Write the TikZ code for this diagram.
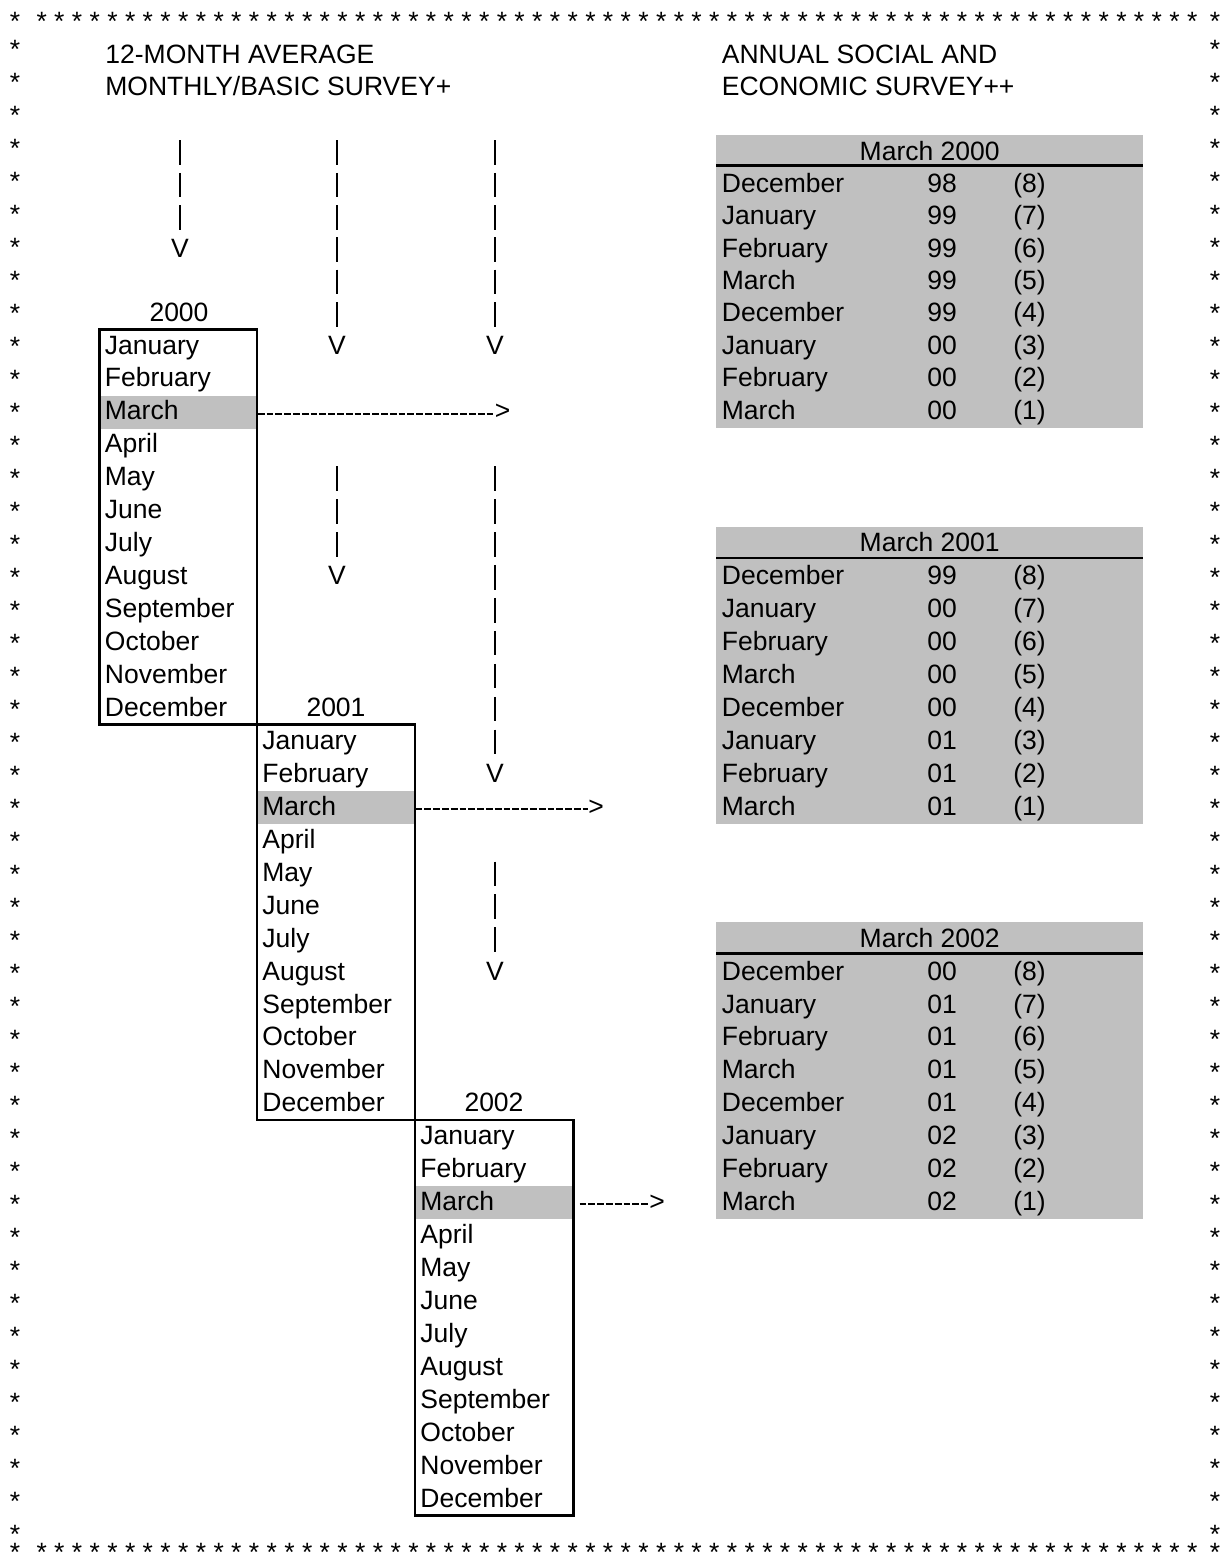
\documentclass[tikz,border=0pt]{standalone}
\usepackage{fontspec}
\setmainfont{Liberation Sans}
\definecolor{silver}{RGB}{192,192,192}
\pgfmathdeclarefunction{rtop}{1}{\pgfmathparse{#1<9 ? 38.6+32.3*#1 : 32.75+32.95*#1}}
\pgfmathdeclarefunction{rbase}{1}{\pgfmathparse{rtop(#1)+24.7}}
\tikzset{
  every node/.style={inner sep=0pt, font=\fontsize{13.25}{15.9}\selectfont},
  cell/.style={anchor=base west},
  mid/.style={anchor=base},
  monthbox/.style={draw, line width=1.3pt},
  hilite/.style={fill=silver, anchor=north west, minimum width=78.85pt, minimum height=16.475pt},
  topbars/.style={line width=1pt, dash pattern=on 12.3pt off 3.85pt, shorten >=3pt},
  bars/.style={line width=1pt, dash pattern=on 12.3pt off 4.175pt, shorten >=3pt},
  hyph/.style={line width=1pt, dash pattern=on 3.4pt off 1pt},
  headrule/.style={line width=1.3pt}
}
\begin{document}
\begin{tikzpicture}[x=0.5pt,y=-0.5pt]
\useasboundingbox (0,0) rectangle (1222,1562);
% frame of stars
\node[mid] (sc1) at (15,30.2) {*};
\node[mid] (sc2) at (1215,30.2) {*};
\node[mid] (sc3) at (15,1561) {*};
\node[mid] (sc4) at (1215,1561) {*};
\foreach \i in {0,...,65}{
  \node[mid] (st\i) at ({41.7+17.7*\i},30.2) {*};
  \node[mid] (sb\i) at ({41.7+17.7*\i},1561) {*};
}
\foreach \r in {0,...,45}{
  \node[mid] (sl\r) at (15,{58.7+33*\r}) {*};
  \node[mid] (sr\r) at (1215,{58.7+33*\r}) {*};
}
% headings
\node[cell] (hl1) at (105,{rbase(0)}) {12-MONTH AVERAGE};
\node[cell] (hl2) at (105,{rbase(1)}) {MONTHLY/BASIC SURVEY+};
\node[cell] (hr1) at (721.5,{rbase(0)}) {ANNUAL SOCIAL AND};
\node[cell] (hr2) at (721.5,{rbase(1)}) {ECONOMIC SURVEY++};
% march tables
\foreach \h/\ttl/\ya/\yb/\yc in {3/2000/98/99/00,15/2001/99/00/01,27/2002/00/01/02}{
  \fill[silver] (716,{rtop(\h)}) rectangle (1143.3,{rtop(\h+9)});
  \draw[headrule] (716,{rtop(\h+1)-2}) -- (1143.3,{rtop(\h+1)-2});
  \node[mid] (t\ttl) at (929.7,{rbase(\h)}) {March \ttl};
  \foreach \m/\yy [count=\i] in {December/\ya,January/\yb,February/\yb,March/\yb,December/\yb,January/\yc,February/\yc,March/\yc}{
    \pgfmathtruncatemacro\p{9-\i}
    \node[cell] (tm\ttl-\i) at (721.5,{rbase(\h+\i)}) {\m};
    \node[cell] (ty\ttl-\i) at (927,{rbase(\h+\i)}) {\yy};
    \node[cell] (tp\ttl-\i) at (1013,{rbase(\h+\i)}) {(\p)};
  }
}
% month boxes
\node[hilite] (hl2000) at (99.3,{rtop(11)}) {};
\node[hilite] (hl2001) at (257,{rtop(23)}) {};
\node[hilite] (hl2002) at (415,{rtop(35)}) {};
\draw[monthbox] (99.3,{rtop(9)}) rectangle (257,{rtop(21)});
\draw[monthbox] (257,{rtop(21)}) rectangle (415,{rtop(33)});
\draw[monthbox] (415,{rtop(33)}) rectangle (573.3,{rtop(45)});
\foreach \m [count=\i from 0] in {January,February,March,April,May,June,July,August,September,October,November,December}{
  \node[cell] (ma\i) at (104.5,{rbase(9+\i)}) {\m};
  \node[cell] (mb\i) at (262,{rbase(21+\i)}) {\m};
  \node[cell] (mc\i) at (420,{rbase(33+\i)}) {\m};
}
\node[mid] (y2000) at (179,{rbase(8)}) {2000};
\node[mid] (y2001) at (336,{rbase(20)}) {2001};
\node[mid] (y2002) at (494,{rbase(32)}) {2002};
% downward arrows
\node[mid] (va1) at (180,{rbase(6)}) {V};
\node[mid] (va2) at (337,{rbase(9)}) {V};
\node[mid] (va3) at (495,{rbase(9)}) {V};
\node[mid] (vb2) at (337,{rbase(16)}) {V};
\node[mid] (vb3) at (495,{rbase(22)}) {V};
\node[mid] (vc3) at (495,{rbase(28)}) {V};
\coordinate (sa1) at (180,{rtop(3)+5});
\coordinate (sa2) at (337,{rtop(3)+5});
\coordinate (sa3) at (495,{rtop(3)+5});
\coordinate (sb2) at (337,{rtop(13)+5});
\coordinate (sb3) at (495,{rtop(13)+5});
\coordinate (sc3) at (495,{rtop(25)+5});
\draw[topbars] (sa1) -- (va1.north);
\draw[topbars] (sa2) -- (va2.north);
\draw[topbars] (sa3) -- (va3.north);
\draw[bars] (sb2) -- (vb2.north);
\draw[bars] (sb3) -- (vb3.north);
\draw[bars] (sc3) -- (vc3.north);
% arrows to the tables
\node[cell] (ga2000) at (494.5,{rbase(11)}) {>};
\node[cell] (ga2001) at (588,{rbase(23)}) {>};
\node[cell] (ga2002) at (649,{rbase(35)}) {>};
\coordinate (ha2000) at ([yshift=-0.8pt]hl2000.east);
\coordinate (ha2001) at ([yshift=-0.8pt]hl2001.east);
\coordinate (ha2002) at ([yshift=-0.8pt]hl2002.east);
\draw[hyph] (ha2000) -- (ha2000 -| ga2000.west);
\draw[hyph] (ha2001) -- (ha2001 -| ga2001.west);
\draw[hyph, shorten <=3pt] (ha2002) -- (ha2002 -| ga2002.west);
\end{tikzpicture}
\end{document}
